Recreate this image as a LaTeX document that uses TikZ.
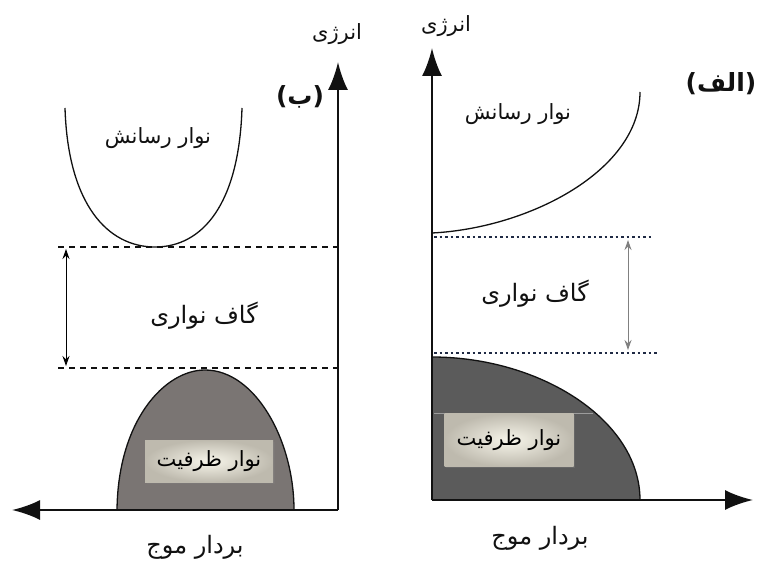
\documentclass[tikz,border=0pt]{standalone}
\usepackage{fontspec}
\setmainfont{DejaVu Sans}
\newfontfamily\farsi[Script=Arabic]{DejaVu Sans}
\TeXXeTstate=1
\usepackage{tikz}
\usetikzlibrary{arrows.meta,shadows}
\definecolor{bdink}{HTML}{111111}
\definecolor{bdvalB}{HTML}{7A7573}
\definecolor{bdvalA}{HTML}{5B5B5B}
\definecolor{bdseam}{HTML}{9C9C9C}
\definecolor{bddot}{HTML}{1F2A44}
\definecolor{bdboxin}{HTML}{F7F5EA}
\definecolor{bdboxout}{HTML}{BEBAAE}
\tikzset{
  axisline/.style={line width=2.4pt,draw=bdink,-{Latex[length=28pt,width=20pt]}},
  band/.style={line width=1.3pt,draw=bdink},
  gapline/.style={line width=2pt,draw=bdink,dash pattern=on 6pt off 5pt},
  gapdots/.style={line width=1.6pt,draw=bddot,dash pattern=on 2.5pt off 3pt},
  gaparrow/.style={line width=1pt,{Stealth[length=10pt,width=7pt]}-{Stealth[length=10pt,width=7pt]}},
  lbl/.style={font=\farsi\fontsize{21}{24}\selectfont,inner sep=0pt,text=bdink},
  lblbig/.style={lbl,font=\farsi\fontsize{24}{28}\selectfont},
  tag/.style={font=\farsi\fontsize{25}{29}\selectfont\bfseries,inner sep=0pt,text=bdink},
  valbox/.style={inner sep=0pt,inner color=bdboxin,outer color=bdboxout,
                 drop shadow={shadow xshift=1.5pt,shadow yshift=-1.5pt,opacity=.35},
                 font=\farsi\fontsize{21}{24}\selectfont,text=black},
}
\begin{document}
\begin{tikzpicture}[x=1pt,y=-1pt]
\useasboundingbox (0,0) rectangle (759,564);
% panel (b): direct gap
\coordinate (bO) at (338,510);
\coordinate (bY) at (338,62);
\coordinate (bX) at (12,510);
\fill[bdvalB] (117,510) .. controls (118,420) and (165,370) .. (205,370)
  .. controls (255,370) and (294,440) .. (294,510) -- cycle;
\draw[band] (117,510) .. controls (118,420) and (165,370) .. (205,370)
  .. controls (255,370) and (294,440) .. (294,510);
\draw[band] (65,108) .. controls (68,205) and (108,247) .. (155,247)
  .. controls (202,247) and (239,205) .. (242,108);
\coordinate (bCtop) at (58,247);
\coordinate (bCend) at (340,247);
\coordinate (bVtop) at (58,368);
\coordinate (bVend) at (340,368);
\draw[gapline] (bCtop) -- (bCend);
\draw[gapline] (bVtop) -- (bVend);
\coordinate (bGu) at (66,249);
\coordinate (bGd) at (66,366);
\draw[gaparrow] (bGu) -- (bGd);
\draw[axisline] (bO) -- (bY);
\draw[axisline] (bO) -- (bX);
\node[lbl] (bEnergy) at (337,34) {\beginR انرژی\endR};
\node[tag] (bTag) at (300,97) {)\beginR ب\endR(};
\node[lbl] (bCond) at (158,138) {\beginR نوار رسانش\endR};
\node[lblbig] (bGap) at (204,316) {\beginR گاف نواری\endR};
\node[valbox,minimum width=128pt,minimum height=42pt] (bVal) at (209,461) {\beginR نوار ظرفیت\endR};
\node[lblbig] (bK) at (195,547) {\beginR بردار موج\endR};
% panel (a): indirect gap
\coordinate (aO) at (432,500);
\coordinate (aY) at (432,48);
\coordinate (aX) at (753,500);
\fill[bdvalA] (aO) -- (432,357) .. controls (540,357) and (640,420) .. (640,500) -- cycle;
\draw[band] (432,357) .. controls (540,357) and (640,420) .. (640,500);
\coordinate (aSl) at (434,413);
\coordinate (aSr) at (593,413);
\draw[bdseam,line width=1pt] (aSl) -- (aSr);
\draw[band] (432,233) .. controls (530,228) and (640,170) .. (640,92);
\coordinate (aCtop) at (434,237);
\coordinate (aCend) at (652,237);
\coordinate (aVtop) at (434,353);
\coordinate (aVend) at (657,353);
\draw[gapdots] (aCtop) -- (aCend);
\draw[gapdots] (aVtop) -- (aVend);
\coordinate (aGu) at (628,240);
\coordinate (aGd) at (628,350);
\draw[gaparrow,draw=gray] (aGu) -- (aGd);
\draw[axisline] (aO) -- (aY);
\draw[axisline] (aO) -- (aX);
\node[lbl] (aEnergy) at (446,26) {\beginR انرژی\endR};
\node[tag] (aTag) at (721,84) {)\beginR الف\endR(};
\node[lbl] (aCond) at (518,114) {\beginR نوار رسانش\endR};
\node[lblbig] (aGap) at (535,294) {\beginR گاف نواری\endR};
\node[valbox,minimum width=129pt,minimum height=53pt] (aVal) at (509,440) {\beginR نوار ظرفیت\endR};
\node[lblbig] (aK) at (540,538) {\beginR بردار موج\endR};
\end{tikzpicture}
\end{document}
